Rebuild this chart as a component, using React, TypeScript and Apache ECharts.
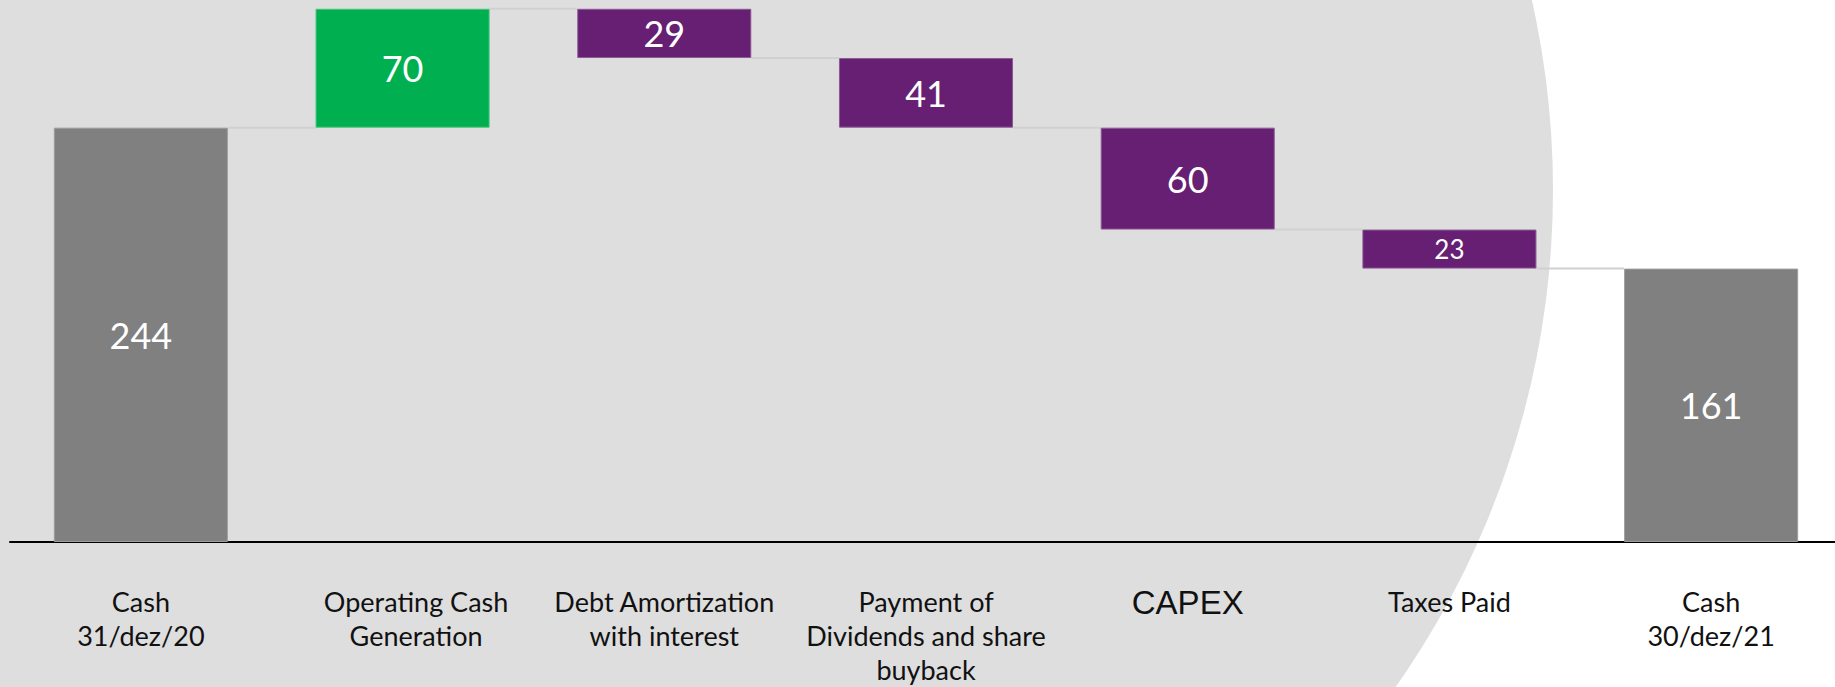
import React, { useEffect, useRef } from "react";
import * as echarts from "echarts";

const categories = [
  "Cash\n31/dez/20",
  "Operating Cash\nGeneration",
  "Debt Amortization\nwith interest",
  "Payment of\nDividends and share\nbuyback",
  "CAPEX",
  "Taxes Paid",
  "Cash\n30/dez/21",
];
const deltas = [244, 70, 29, 41, 60, 23, 161];
const kinds = ["total", "increase", "decrease", "decrease", "decrease", "decrease", "total"];

const COLORS: Record<string, string> = {
  total: "#808080",
  increase: "#00B050",
  decrease: "#661F72",
};
const BORDERS: Record<string, string> = {
  total: "#9c9c9c",
  increase: "#40c47a",
  decrease: "#8a5a94",
};

export default function App() {
  const ref = useRef<HTMLDivElement>(null);
  useEffect(() => {
    if (!ref.current) return;
    const chart = echarts.init(ref.current, undefined, { renderer: "svg" });

    const bases: number[] = [];
    const levels: number[] = [];
    let running = 0;
    deltas.forEach((v, i) => {
      const k = kinds[i];
      if (k === "total") {
        bases.push(0);
        running = v;
      } else if (k === "increase") {
        bases.push(running);
        running += v;
      } else {
        running -= v;
        bases.push(running);
      }
      levels.push(running);
    });
    const connectors = levels.slice(0, -1).map((lv, i) => [i, lv]);
    const BAR_RATIO = 0.665;

    chart.setOption({
      animation: false,
      backgroundColor: "#ffffff",
      graphic: [
        {
          type: "circle",
          z: -100,
          silent: true,
          shape: { cx: 689.5, cy: 190, r: 863.5 },
          style: { fill: "#dedede" },
        },
      ],
      grid: { left: 10, top: 2, width: 1832, height: 540 },
      xAxis: {
        type: "category",
        data: categories,
        axisLine: { show: true, lineStyle: { color: "#000", width: 2 } },
        axisTick: { show: false },
        axisLabel: {
          interval: 0,
          margin: 42,
          formatter: (val: string, idx: number) => {
            const st = idx === 4 ? "cap" : idx === 1 ? "op" : "a";
            return val
              .split("\n")
              .map((l) => `{${st}|${l}}`)
              .join("\n");
          },
          rich: {
            a: { fontFamily: "Lato", fontSize: 27, lineHeight: 34, color: "#111" },
            op: {
              fontFamily: "Lato",
              fontSize: 27,
              lineHeight: 34,
              color: "#111",
              padding: [0, 0, 0, 27],
            },
            cap: {
              fontFamily: "Liberation Sans",
              fontSize: 33,
              lineHeight: 36,
              color: "#111",
            },
          },
        },
      },
      yAxis: { type: "value", min: 0, max: 318, show: false },
      series: [
        {
          type: "bar",
          stack: "w",
          silent: true,
          barCategoryGap: "33.5%",
          itemStyle: { color: "transparent" },
          data: bases,
        },
        {
          type: "bar",
          stack: "w",
          barCategoryGap: "33.5%",
          data: deltas.map((v, i) => ({
            value: v,
            itemStyle: {
              color: COLORS[kinds[i]],
              borderColor: BORDERS[kinds[i]],
              borderWidth: 1,
            },
            label: { fontSize: v < 25 ? 26 : 36 },
          })),
          label: {
            show: true,
            position: "inside",
            color: "#ffffff",
            fontFamily: "Lato",
            fontSize: 36,
          },
        },
        {
          type: "custom",
          silent: true,
          data: connectors,
          renderItem: (params: any, api: any) => {
            const i = api.value(0);
            const lv = api.value(1);
            const a = api.coord([i, lv]);
            const b = api.coord([i + 1, lv]);
            const half = (api.size([1, 0])[0] * BAR_RATIO) / 2;
            return {
              type: "line",
              shape: { x1: a[0] + half, y1: a[1], x2: b[0] - half, y2: b[1] },
              style: { stroke: "#d0d0d0", lineWidth: 2 },
            };
          },
        },
      ],
    });
    return () => chart.dispose();
  }, []);
  return (
    <div
      style={{
        position: "fixed",
        left: 0,
        top: 0,
        width: 1835,
        height: 687,
        overflow: "hidden",
        background: "#fff",
      }}
    >
      <div ref={ref} style={{ width: 1844, height: 687 }} />
    </div>
  );
}
